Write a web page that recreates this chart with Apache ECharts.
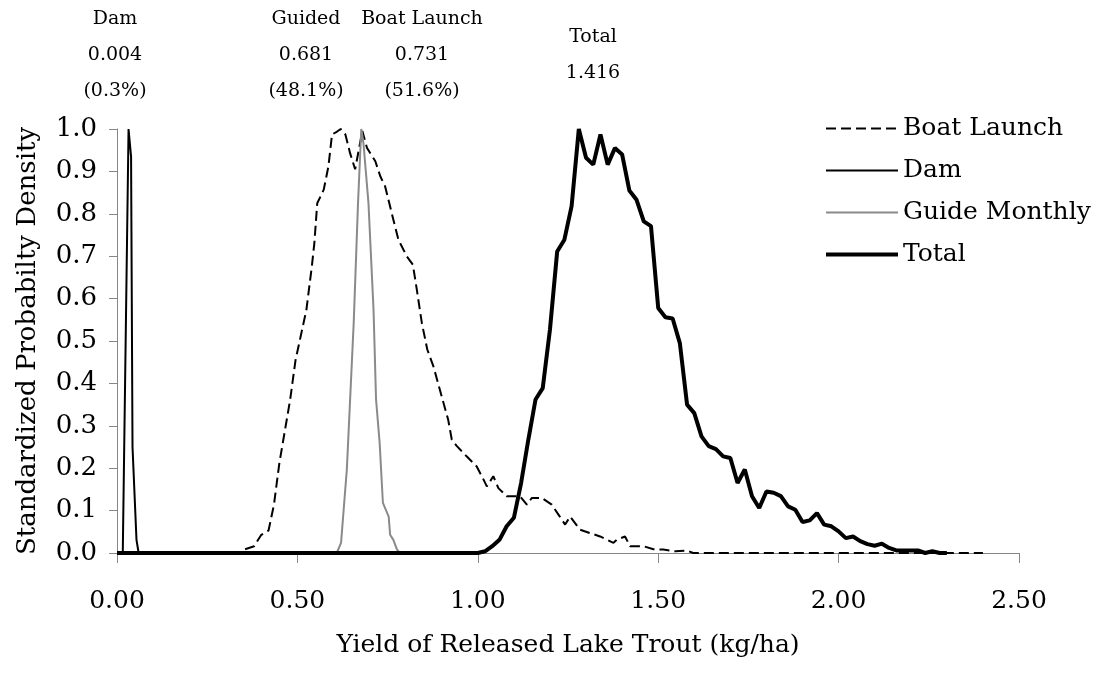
<!DOCTYPE html>
<html>
<head>
<meta charset="utf-8">
<script src="https://cdn.jsdelivr.net/npm/echarts@6/dist/echarts.min.js"></script>
<style>
  html, body { margin: 0; padding: 0; background: #fff; }
  #chart { width: 1109px; height: 675px; }
</style>
</head>
<body>
<div id="chart"></div>
<script>
// series values
const boatX = [0.355, 0.38, 0.40, 0.42, 0.435, 0.45, 0.48, 0.495, 0.505, 0.525, 0.54, 0.547, 0.555,
  0.573, 0.586, 0.596, 0.61, 0.62, 0.633, 0.646, 0.66, 0.68, 0.693, 0.716, 0.73, 0.743, 0.766,
  0.78, 0.803, 0.82, 0.831, 0.845, 0.86, 0.877, 0.90, 0.918, 0.928, 0.942, 0.969, 0.997, 1.016,
  1.025, 1.043, 1.057, 1.08, 1.117, 1.136, 1.15, 1.177, 1.205, 1.224, 1.242, 1.256, 1.283, 1.311,
  1.339, 1.376, 1.385, 1.408, 1.422, 1.459, 1.487, 1.514, 1.547, 1.579, 1.597, 2.40]
const boatY = [0.009, 0.016, 0.043, 0.053, 0.114, 0.212, 0.362, 0.456, 0.495, 0.574, 0.676, 0.731, 0.825,
  0.857, 0.912, 0.987, 0.994, 1.0, 0.987, 0.943, 0.905, 0.995, 0.955, 0.924, 0.888, 0.865, 0.786,
  0.739, 0.700, 0.680, 0.621, 0.542, 0.480, 0.440, 0.369, 0.314, 0.267, 0.252, 0.228, 0.204, 0.173,
  0.157, 0.181, 0.153, 0.134, 0.134, 0.114, 0.130, 0.130, 0.114, 0.090, 0.067, 0.086, 0.055, 0.047,
  0.039, 0.024, 0.031, 0.039, 0.016, 0.016, 0.009, 0.008, 0.004, 0.006, 0, 0]

const damX = [0, 0.016, 0.032, 0.039, 0.043, 0.054, 0.06, 0.10]
const damY = [0, 0, 1.0, 0.935, 0.25, 0.031, 0, 0]

const guideX = [0.55, 0.609, 0.621, 0.637, 0.656, 0.668, 0.677, 0.683, 0.697, 0.711, 0.718, 0.728,
  0.737, 0.753, 0.757, 0.766, 0.776, 0.785, 0.85]
const guideY = [0, 0, 0.024, 0.197, 0.542, 0.825, 1.0, 0.967, 0.825, 0.574, 0.362, 0.259,
  0.118, 0.086, 0.043, 0.031, 0.008, 0, 0]

const totalX = [0, 0.98, 1.00, 1.02, 1.04, 1.06, 1.08, 1.10, 1.12, 1.14, 1.16, 1.18, 1.20, 1.22, 1.24,
  1.26, 1.28, 1.30, 1.32, 1.34, 1.36, 1.38, 1.40, 1.42, 1.44, 1.46, 1.48, 1.50, 1.52, 1.54, 1.56,
  1.58, 1.60, 1.62, 1.64, 1.66, 1.68, 1.70, 1.72, 1.74, 1.76, 1.78, 1.80, 1.82, 1.84, 1.86, 1.88,
  1.90, 1.92, 1.94, 1.96, 1.98, 2.00, 2.02, 2.04, 2.06, 2.08, 2.10, 2.12, 2.14, 2.16, 2.18, 2.20,
  2.22, 2.24, 2.26, 2.28, 2.30]
const totalY = [0, 0, 0, 0.004, 0.016, 0.031, 0.063, 0.083, 0.165, 0.267, 0.362, 0.389, 0.527, 0.711, 0.739,
  0.818, 1.0, 0.932, 0.916, 0.987, 0.916, 0.955, 0.940, 0.855, 0.833, 0.782, 0.771, 0.578, 0.556, 0.553, 0.495,
  0.350, 0.330, 0.275, 0.252, 0.245, 0.228, 0.224, 0.165, 0.197, 0.134, 0.106, 0.145, 0.142, 0.134, 0.110, 0.102,
  0.073, 0.077, 0.094, 0.067, 0.063, 0.051, 0.035, 0.039, 0.028, 0.021, 0.017, 0.022, 0.012, 0.006, 0.006, 0.006,
  0.006, 0, 0.004, 0, 0]

const seriesNames = ['Boat Launch', 'Dam', 'Guide Monthly', 'Total']

// labels above the plot: [lines, centre x, first row y]
const notes = [
  [['Dam', '0.004', '(0.3%)'], 115, 19],
  [['Guided', '0.681', '(48.1%)'], 306, 19],
  [['Boat Launch', '0.731', '(51.6%)'], 422, 19],
  [['Total', '1.416'], 593, 37]
]

const font = 'DejaVu Serif'
const pairs = (xs, ys) => xs.map((x, i) => [x, ys[i]])

let graphics = []
notes.forEach(n => {
  n[0].forEach((t, i) => {
    graphics.push({
      type: 'text',
      x: n[1],
      y: n[2] + i * 36,
      style: {
        text: t,
        font: '19px "' + font + '"',
        fill: '#000',
        align: 'center',
        verticalAlign: 'middle'
      }
    })
  })
})

let myChart = echarts.init(document.getElementById('chart'))
myChart.setOption({
  animation: false,
  backgroundColor: '#fff',
  textStyle: { fontFamily: font, color: '#000' },
  grid: { left: 117, right: 90, top: 129, bottom: 122 },
  legend: {
    data: seriesNames,
    orient: 'vertical',
    left: 819,
    top: 111,
    itemWidth: 72,
    itemHeight: 14,
    itemGap: 17,
    itemStyle: { opacity: 0 },
    lineStyle: { width: 'inherit' },
    textStyle: { fontFamily: font, fontSize: 25, color: '#000' }
  },
  xAxis: {
    type: 'value',
    min: 0,
    max: 2.5,
    interval: 0.5,
    name: 'Yield of Released Lake Trout (kg/ha)',
    nameLocation: 'middle',
    nameGap: 80,
    nameTextStyle: { fontFamily: font, fontSize: 25, color: '#000' },
    axisLine: { lineStyle: { color: '#868686', width: 1 } },
    axisTick: { length: 10, lineStyle: { color: '#868686' } },
    axisLabel: {
      margin: 36,
      fontSize: 25,
      color: '#000',
      formatter: v => v.toFixed(2)
    },
    splitLine: { show: false }
  },
  yAxis: {
    type: 'value',
    min: 0,
    max: 1,
    interval: 0.1,
    name: 'Standardized Probabilty Density',
    nameLocation: 'middle',
    nameGap: 76,
    nameTextStyle: { fontFamily: font, fontSize: 26, color: '#000' },
    axisLine: { show: true, lineStyle: { color: '#868686', width: 1 } },
    axisTick: { show: true, length: 8, lineStyle: { color: '#868686' } },
    axisLabel: {
      margin: 20,
      fontSize: 26,
      color: '#000',
      formatter: v => v.toFixed(1)
    },
    splitLine: { show: false }
  },
  graphic: graphics,
  series: [
    {
      name: 'Boat Launch',
      type: 'line',
      symbol: 'none',
      data: pairs(boatX, boatY),
      lineStyle: { color: '#000', width: 2, type: [10, 5] },
      itemStyle: { color: '#000' }
    },
    {
      name: 'Dam',
      type: 'line',
      symbol: 'none',
      data: pairs(damX, damY),
      lineStyle: { color: '#000', width: 2 },
      itemStyle: { color: '#000' }
    },
    {
      name: 'Guide Monthly',
      type: 'line',
      symbol: 'none',
      data: pairs(guideX, guideY),
      lineStyle: { color: '#8a8a8a', width: 2 },
      itemStyle: { color: '#8a8a8a' }
    },
    {
      name: 'Total',
      type: 'line',
      symbol: 'none',
      data: pairs(totalX, totalY),
      lineStyle: { color: '#000', width: 4 },
      itemStyle: { color: '#000' }
    }
  ]
})
</script>
</body>
</html>
